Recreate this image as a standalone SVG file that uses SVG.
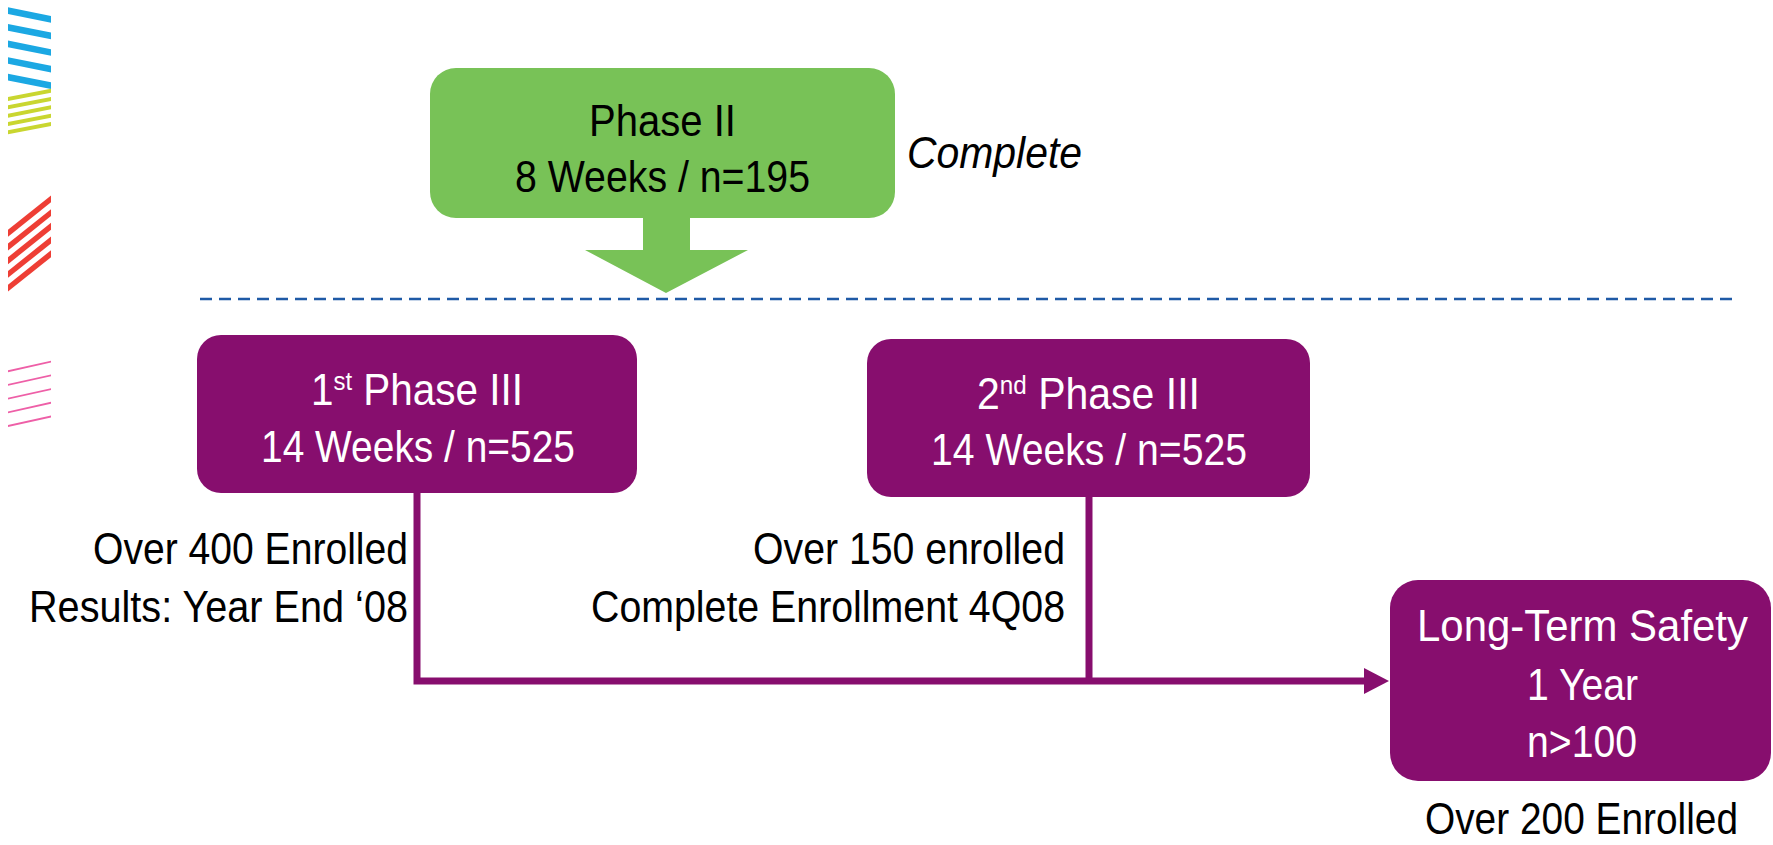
<svg xmlns="http://www.w3.org/2000/svg" width="1773" height="845" viewBox="0 0 1773 845">
<style>
.t{font-family:"Liberation Sans Narrow","Liberation Sans",Arial,sans-serif;font-size:44px;}
.w{fill:#ffffff;}
.k{fill:#000000;}
.pbox{fill:#870e6e;}
.conn{fill:none;stroke:#870e6e;stroke-width:7;}
</style>
<defs>
<clipPath id="sc"><rect x="8" y="0" width="43" height="440"/></clipPath>
<marker id="ah" viewBox="0 0 25 26" refX="2" refY="13" markerWidth="25" markerHeight="26" markerUnits="userSpaceOnUse" orient="auto">
<path d="M0,0 L25,13 L0,26 Z" fill="#870e6e"/>
</marker>
</defs>
<rect width="1773" height="845" fill="#ffffff"/>
<g id="stripes" clip-path="url(#sc)">
<g stroke="#1ba8e3" stroke-width="6.6">
<line x1="0" y1="9.1" x2="60" y2="21.1"/>
<line x1="0" y1="25.7" x2="60" y2="37.7"/>
<line x1="0" y1="42.3" x2="60" y2="54.3"/>
<line x1="0" y1="58.9" x2="60" y2="70.9"/>
<line x1="0" y1="75.5" x2="60" y2="87.5"/>
</g>
<g stroke="#c9d630" stroke-width="3.9">
<line x1="0" y1="100.6" x2="60" y2="89"/>
<line x1="0" y1="108.9" x2="60" y2="97.3"/>
<line x1="0" y1="117.2" x2="60" y2="105.6"/>
<line x1="0" y1="125.5" x2="60" y2="113.9"/>
<line x1="0" y1="133.8" x2="60" y2="122.2"/>
</g>
<g stroke="#ee3e35" stroke-width="5.4">
<line x1="0" y1="239.7" x2="60" y2="191.7"/>
<line x1="0" y1="253.4" x2="60" y2="205.4"/>
<line x1="0" y1="267.1" x2="60" y2="219.1"/>
<line x1="0" y1="280.8" x2="60" y2="232.8"/>
<line x1="0" y1="294.5" x2="60" y2="246.5"/>
</g>
<g stroke="#ee5fa7" stroke-width="1.8">
<line x1="0" y1="373" x2="60" y2="359.7"/>
<line x1="0" y1="386.7" x2="60" y2="373.4"/>
<line x1="0" y1="400.4" x2="60" y2="387.1"/>
<line x1="0" y1="414.1" x2="60" y2="400.8"/>
<line x1="0" y1="427.8" x2="60" y2="414.5"/>
</g>
</g>
<line id="divider" x1="200" y1="299" x2="1732" y2="299" stroke="#1f5aa6" stroke-width="2.5" stroke-dasharray="12 7"/>
<g id="phase2">
<rect x="430" y="68" width="465" height="150" rx="26" fill="#78c257"/>
<polygon points="643,217 690,217 690,250 748,250 666,293 585,250 643,250" fill="#78c257"/>
<text class="t k" x="589" y="136" textLength="147" lengthAdjust="spacingAndGlyphs">Phase II</text>
<text class="t k" x="515" y="192" textLength="295" lengthAdjust="spacingAndGlyphs">8 Weeks / n=195</text>
</g>
<text id="complete" class="t k" x="907" y="168" font-style="italic" textLength="175" lengthAdjust="spacingAndGlyphs">Complete</text>
<g id="connectors">
<path class="conn" d="M417,493 V681 H1366" marker-end="url(#ah)"/>
<path class="conn" d="M1089,497 V681"/>
</g>
<g id="phase3a">
<rect class="pbox" x="197" y="335" width="440" height="158" rx="24"/>
<text class="t w" x="311" y="405" textLength="212" lengthAdjust="spacingAndGlyphs">1<tspan font-size="26" dy="-15">st</tspan><tspan dy="15"> Phase III</tspan></text>
<text class="t w" x="261" y="462" textLength="314" lengthAdjust="spacingAndGlyphs">14 Weeks / n=525</text>
</g>
<g id="phase3a-notes">
<text class="t k" x="93" y="564" textLength="315" lengthAdjust="spacingAndGlyphs">Over 400 Enrolled</text>
<text class="t k" x="29" y="622" textLength="379" lengthAdjust="spacingAndGlyphs">Results: Year End ‘08</text>
</g>
<g id="phase3b">
<rect class="pbox" x="867" y="339" width="443" height="158" rx="24"/>
<text class="t w" x="977" y="409" textLength="223" lengthAdjust="spacingAndGlyphs">2<tspan font-size="26" dy="-15">nd</tspan><tspan dy="15"> Phase III</tspan></text>
<text class="t w" x="931" y="465" textLength="316" lengthAdjust="spacingAndGlyphs">14 Weeks / n=525</text>
</g>
<g id="phase3b-notes">
<text class="t k" x="753" y="564" textLength="312" lengthAdjust="spacingAndGlyphs">Over 150 enrolled</text>
<text class="t k" x="591" y="622" textLength="474" lengthAdjust="spacingAndGlyphs">Complete Enrollment 4Q08</text>
</g>
<g id="longterm">
<rect class="pbox" x="1390" y="580" width="381" height="201" rx="28"/>
<text class="t w" x="1417" y="641" textLength="331" lengthAdjust="spacingAndGlyphs">Long-Term Safety</text>
<text class="t w" x="1527" y="700" textLength="111" lengthAdjust="spacingAndGlyphs">1 Year</text>
<text class="t w" x="1527" y="757" textLength="110" lengthAdjust="spacingAndGlyphs">n&gt;100</text>
</g>
<text id="longterm-note" class="t k" x="1425" y="834" font-size="42" textLength="313" lengthAdjust="spacingAndGlyphs">Over 200 Enrolled</text>
</svg>
